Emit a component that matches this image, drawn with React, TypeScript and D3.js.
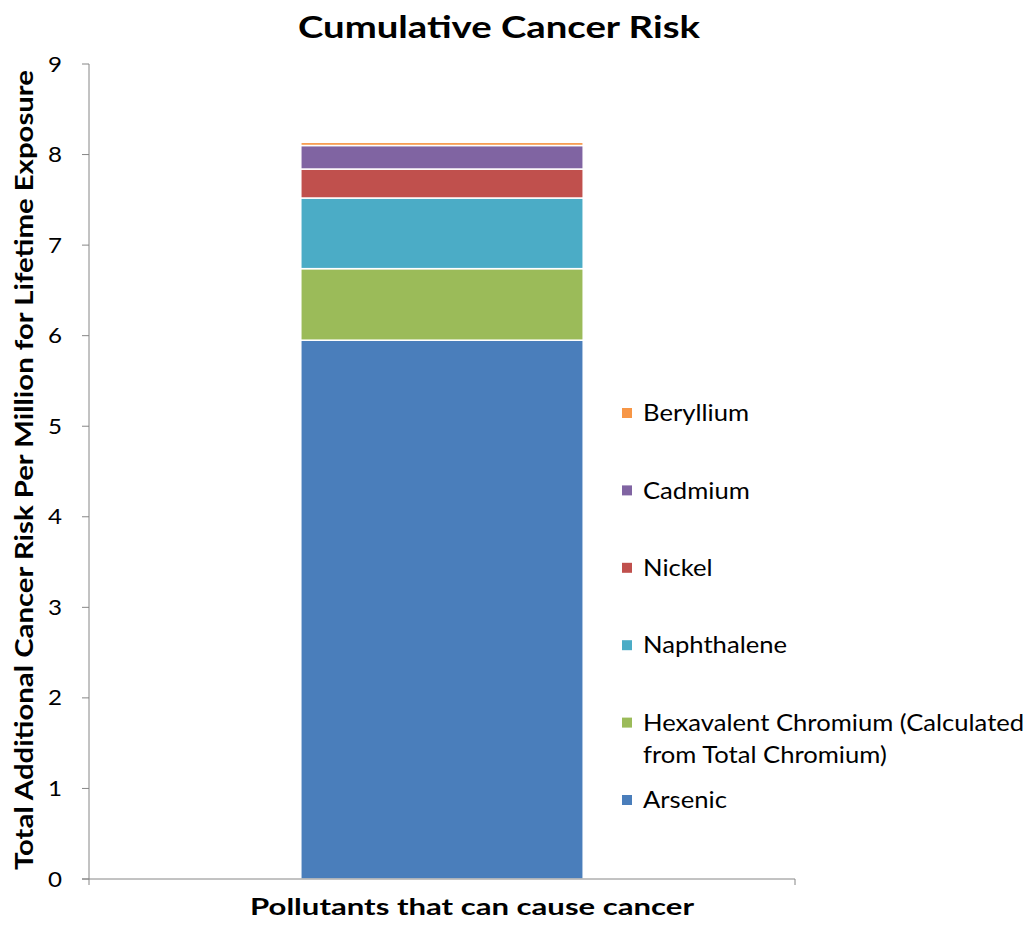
import React from "react";
import * as d3 from "d3";

const categories = ["Pollutants that can cause cancer"];
const seriesNames = [
  "Arsenic",
  "Hexavalent Chromium (Calculated from Total Chromium)",
  "Naphthalene",
  "Nickel",
  "Cadmium",
  "Beryllium",
];
const legendLines = [
  ["Arsenic"],
  ["Hexavalent Chromium (Calculated", "from Total Chromium)"],
  ["Naphthalene"],
  ["Nickel"],
  ["Cadmium"],
  ["Beryllium"],
];
const seriesValues = [5.95, 0.79, 0.78, 0.32, 0.26, 0.035];
const seriesColors = ["#4A7EBB", "#9BBB59", "#4BACC6", "#C0504D", "#8064A2", "#F79646"];
const yTicks = [0, 1, 2, 3, 4, 5, 6, 7, 8, 9];

const W = 1036;
const H = 927;
const FONT = "Lato, 'Open Sans', sans-serif";

export default function App() {
  const left = 89;
  const right = 795;
  const top = 64;
  const bottom = 879;

  const y = d3.scaleLinear().domain([0, 9]).range([bottom, top]);
  const x = d3.scaleBand().domain(categories).range([left, right]).paddingInner(0.6).paddingOuter(0.3);

  const stackData = [Object.fromEntries(seriesNames.map((n, i) => [n, seriesValues[i]]))];
  const stack = d3.stack().keys(seriesNames)(stackData as any);

  const bx = x(categories[0])!;
  const bw = x.bandwidth();

  const legendX = 627;
  const legendTop = 413;
  const legendStep = 77.4;
  const legendOrder = d3.range(seriesNames.length).reverse();
  const textX = 643;
  const stretch = 1.115;

  return (
    <svg
      width={W}
      height={H}
      style={{ position: "absolute", left: 0, top: 0, background: "#fff" }}
      fontFamily={FONT}
    >
      <rect x={0} y={0} width={W} height={H} fill="#fff" />
      <text
        x={298}
        y={37.5}
        fontSize={31}
        fontWeight="bold"
        fill="#000"
        textLength={402}
        lengthAdjust="spacingAndGlyphs"
      >
        Cumulative Cancer Risk
      </text>

      {/* bars */}
      {stack.map((s, i) =>
        s.map((d, j) => (
          <rect
            key={`${i}-${j}`}
            x={bx}
            y={y(d[1])}
            width={bw}
            height={y(d[0]) - y(d[1])}
            fill={seriesColors[i]}
            stroke="#fff"
            strokeWidth={1.5}
          />
        ))
      )}

      {/* y axis */}
      <line x1={left} x2={left} y1={top} y2={bottom} stroke="#868686" strokeWidth={1} />
      {yTicks.map((t) => (
        <g key={t}>
          <line x1={left - 7} x2={left} y1={y(t)} y2={y(t)} stroke="#868686" />
          <text
            x={0}
            y={y(t)}
            dy="0.36em"
            textAnchor="end"
            fontSize={21}
            fill="#000"
            transform={`translate(${left - 27},0) scale(1.15,1)`}
          >
            {t}
          </text>
        </g>
      ))}
      {/* x axis */}
      <line x1={left - 7} x2={right} y1={bottom} y2={bottom} stroke="#868686" />
      <line x1={left} x2={left} y1={bottom} y2={bottom + 6} stroke="#868686" />
      <line x1={right} x2={right} y1={bottom} y2={bottom + 6} stroke="#868686" />

      <text
        x={250}
        y={915}
        fontSize={23}
        fontWeight="bold"
        fill="#000"
        textLength={444}
        lengthAdjust="spacingAndGlyphs"
      >
        {categories[0]}
      </text>
      <text
        transform={`translate(33, 870) rotate(-90)`}
        x={0}
        y={0}
        fontSize={25}
        fontWeight="bold"
        fill="#000"
        textLength={800}
        lengthAdjust="spacingAndGlyphs"
      >
        Total Additional Cancer Risk Per Million for Lifetime Exposure
      </text>

      {/* legend */}
      {legendOrder.map((i, k) => {
        const cy = legendTop + k * legendStep;
        return (
          <g key={i}>
            <rect x={legendX - 5} y={cy - 5} width={10} height={10} fill={seriesColors[i]} />
            {legendLines[i].map((ln, li) => (
              <text
                key={li}
                x={0}
                y={cy + li * 32.5}
                dy="0.36em"
                fontSize={23}
                fill="#000"
                transform={`translate(${textX},0) scale(${stretch},1)`}
              >
                {ln}
              </text>
            ))}
          </g>
        );
      })}
    </svg>
  );
}
